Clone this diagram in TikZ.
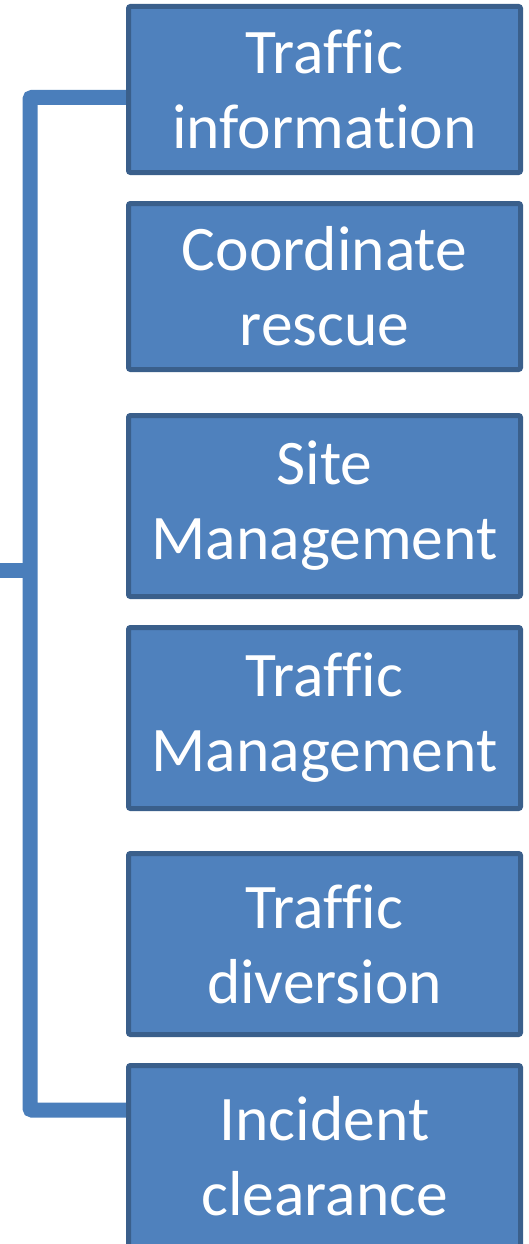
\documentclass[tikz,border=0pt]{standalone}
\usepackage{fontspec}
\setmainfont[RawFeature={-liga;-clig}]{Carlito}
\usepackage{tikz}
\usetikzlibrary{backgrounds}
\definecolor{boxfill}{HTML}{4F81BD}
\definecolor{boxline}{HTML}{3A5F8B}
\definecolor{linkblue}{HTML}{4A7EBB}
\tikzset{
  taskbox/.style={draw=boxline, fill=boxfill, line width=5pt, rounded corners=2pt,
    minimum width=392pt, text=white, align=center,
    font=\fontsize{63.5}{75}\selectfont, inner sep=0pt},
  short/.style={taskbox, minimum height=166pt},
  tall/.style={taskbox, minimum height=181pt},
  link/.style={draw=linkblue, line width=15pt, rounded corners=2pt},
}
\begin{document}
\begin{tikzpicture}[x=1pt,y=-1pt]
  \useasboundingbox (0,0) rectangle (529,1244);

  \node[short] (info)   at (324.5,89.5)  {Traffic\\information};
  \node[short] (rescue) at (324.5,286.5) {Coordinate\\rescue};
  \node[tall]  (site)   at (324.5,506)   {Site\\Management};
  \node[tall]  (mgmt)   at (324.5,718)   {Traffic\\Management};
  \node[tall]  (divert) at (324.5,944)   {Traffic\\diversion};
  \node[tall]  (clear)  at (324.5,1156)  {Incident\\clearance};

  \coordinate (root)  at (0,570);
  \coordinate (spine) at (30,570);

  \begin{scope}[on background layer]
    \draw[link] ([yshift=-8pt]info.west) -| (spine) |- ([yshift=46pt]clear.west);
    \draw[link] (root) -- (spine);
  \end{scope}
\end{tikzpicture}
\end{document}
